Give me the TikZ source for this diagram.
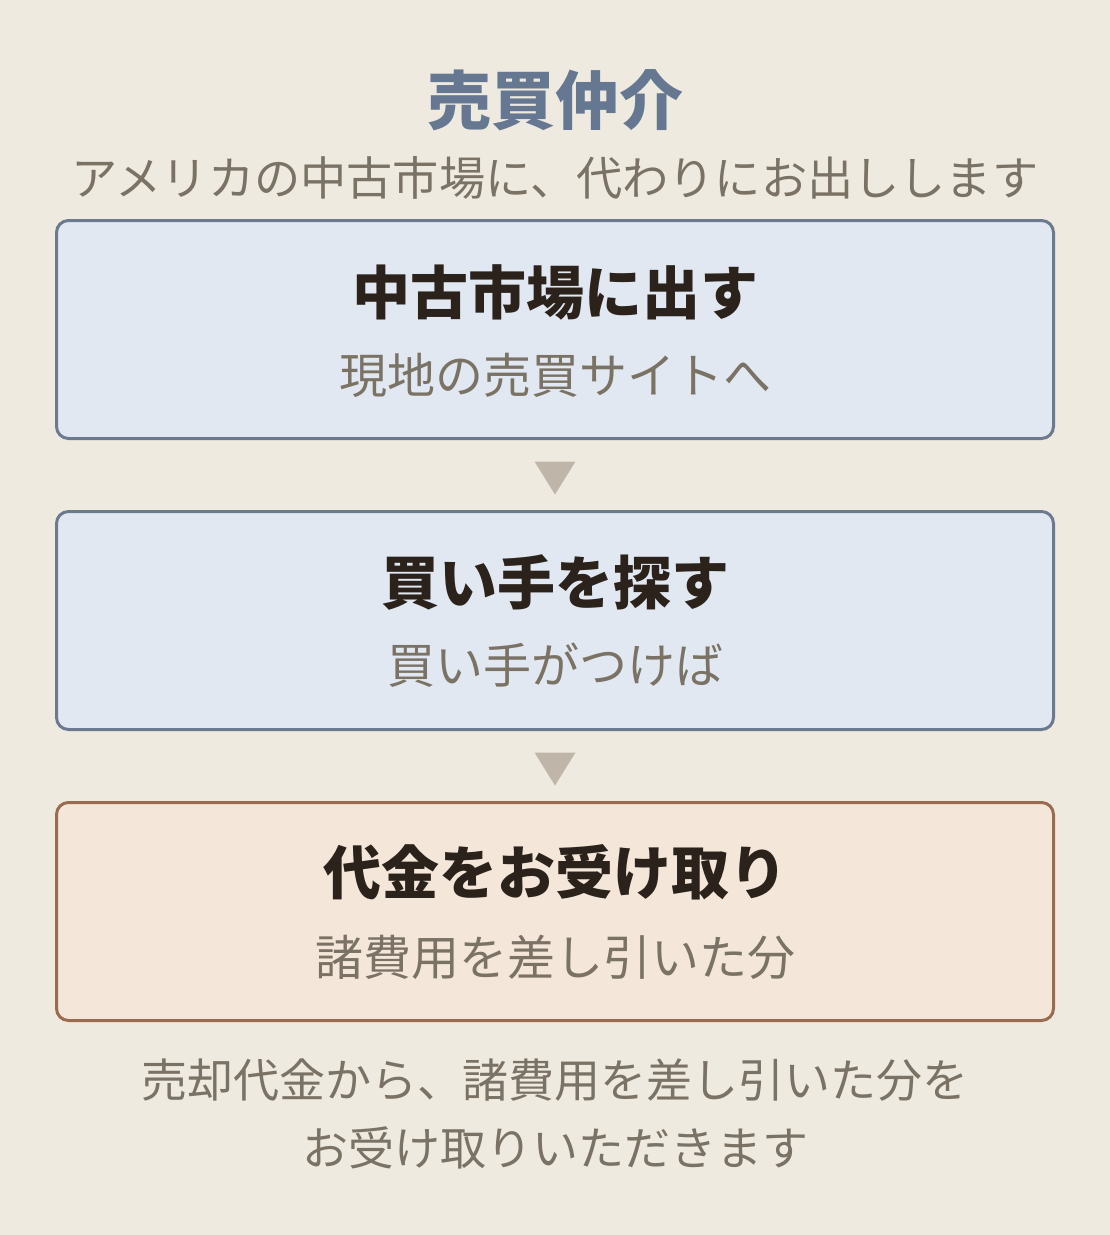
\documentclass[tikz,border=0pt]{standalone}
\usepackage{fontspec}
\setmainfont{Noto Sans CJK JP}
\usetikzlibrary{calc}

\definecolor{bgColor}{HTML}{EFEAE0}
\definecolor{blueFill}{HTML}{E2E8F1}
\definecolor{blueLine}{HTML}{6B7A8F}
\definecolor{tanFill}{HTML}{F4E6D9}
\definecolor{tanLine}{HTML}{9A6B4E}
\definecolor{titleColor}{HTML}{667791}
\definecolor{subColor}{HTML}{7A7265}
\definecolor{headColor}{HTML}{2B221C}
\definecolor{triColor}{HTML}{BFB5A8}

\tikzset{
  stepbox/.style={draw=blueLine, fill=blueFill, line width=3pt, rounded corners=12pt,
    minimum width=997pt, minimum height=218pt, inner sep=0pt},
  lastbox/.style={stepbox, draw=tanLine, fill=tanFill},
  head/.style={text=headColor, font=\fontsize{58}{62}\selectfont\bfseries, inner sep=0pt},
  sub/.style={text=subColor, font=\fontsize{48}{52}\selectfont, inner sep=0pt},
  note/.style={text=subColor, font=\fontsize{46}{50}\selectfont, inner sep=0pt},
  tri/.style={fill=triColor}
}

\begin{document}
\begin{tikzpicture}[x=1pt,y=-1pt]
  \fill[bgColor] (0,0) rectangle (1110,1235);
  \useasboundingbox (0,0) rectangle (1110,1235);
  % Title
  \node[text=titleColor, font=\fontsize{64}{70}\selectfont\bfseries, inner sep=0pt] (title) at (555,100) {売買仲介};
  \node[note, font=\fontsize{46.2}{50}\selectfont] (lead) at (555,178) {アメリカの中古市場に、代わりにお出しします};
  % Steps
  \node[stepbox] (box1) at (555,329.5) {};
  \node[head] (head1) at (555,292) {中古市場に出す};
  \node[sub] (sub1) at (555,375) {現地の売買サイトへ};
  \node[stepbox] (box2) at (555,620.5) {};
  \node[head] (head2) at (555,582) {買い手を探す};
  \node[sub] (sub2) at (555,665) {買い手がつけば};
  \node[lastbox] (box3) at (555,911.5) {};
  \node[head] (head3) at (555,872) {代金をお受け取り};
  \node[sub] (sub3) at (555,957) {諸費用を差し引いた分};
  % Arrows
  \coordinate (t1) at ($(box1.south)!0.5!(box2.north)+(0,3)$);
  \coordinate (t2) at ($(box2.south)!0.5!(box3.north)+(0,3)$);
  \fill[tri] (t1) ++(-20.5,-16.5) -- ++(41,0) -- ++(-20.5,33) -- cycle;
  \fill[tri] (t2) ++(-20.5,-16.5) -- ++(41,0) -- ++(-20.5,33) -- cycle;
  % Note
  \node[note] (note1) at (555,1080) {売却代金から、諸費用を差し引いた分を};
  \node[note] (note2) at (555,1148) {お受け取りいただきます};
\end{tikzpicture}
\end{document}
